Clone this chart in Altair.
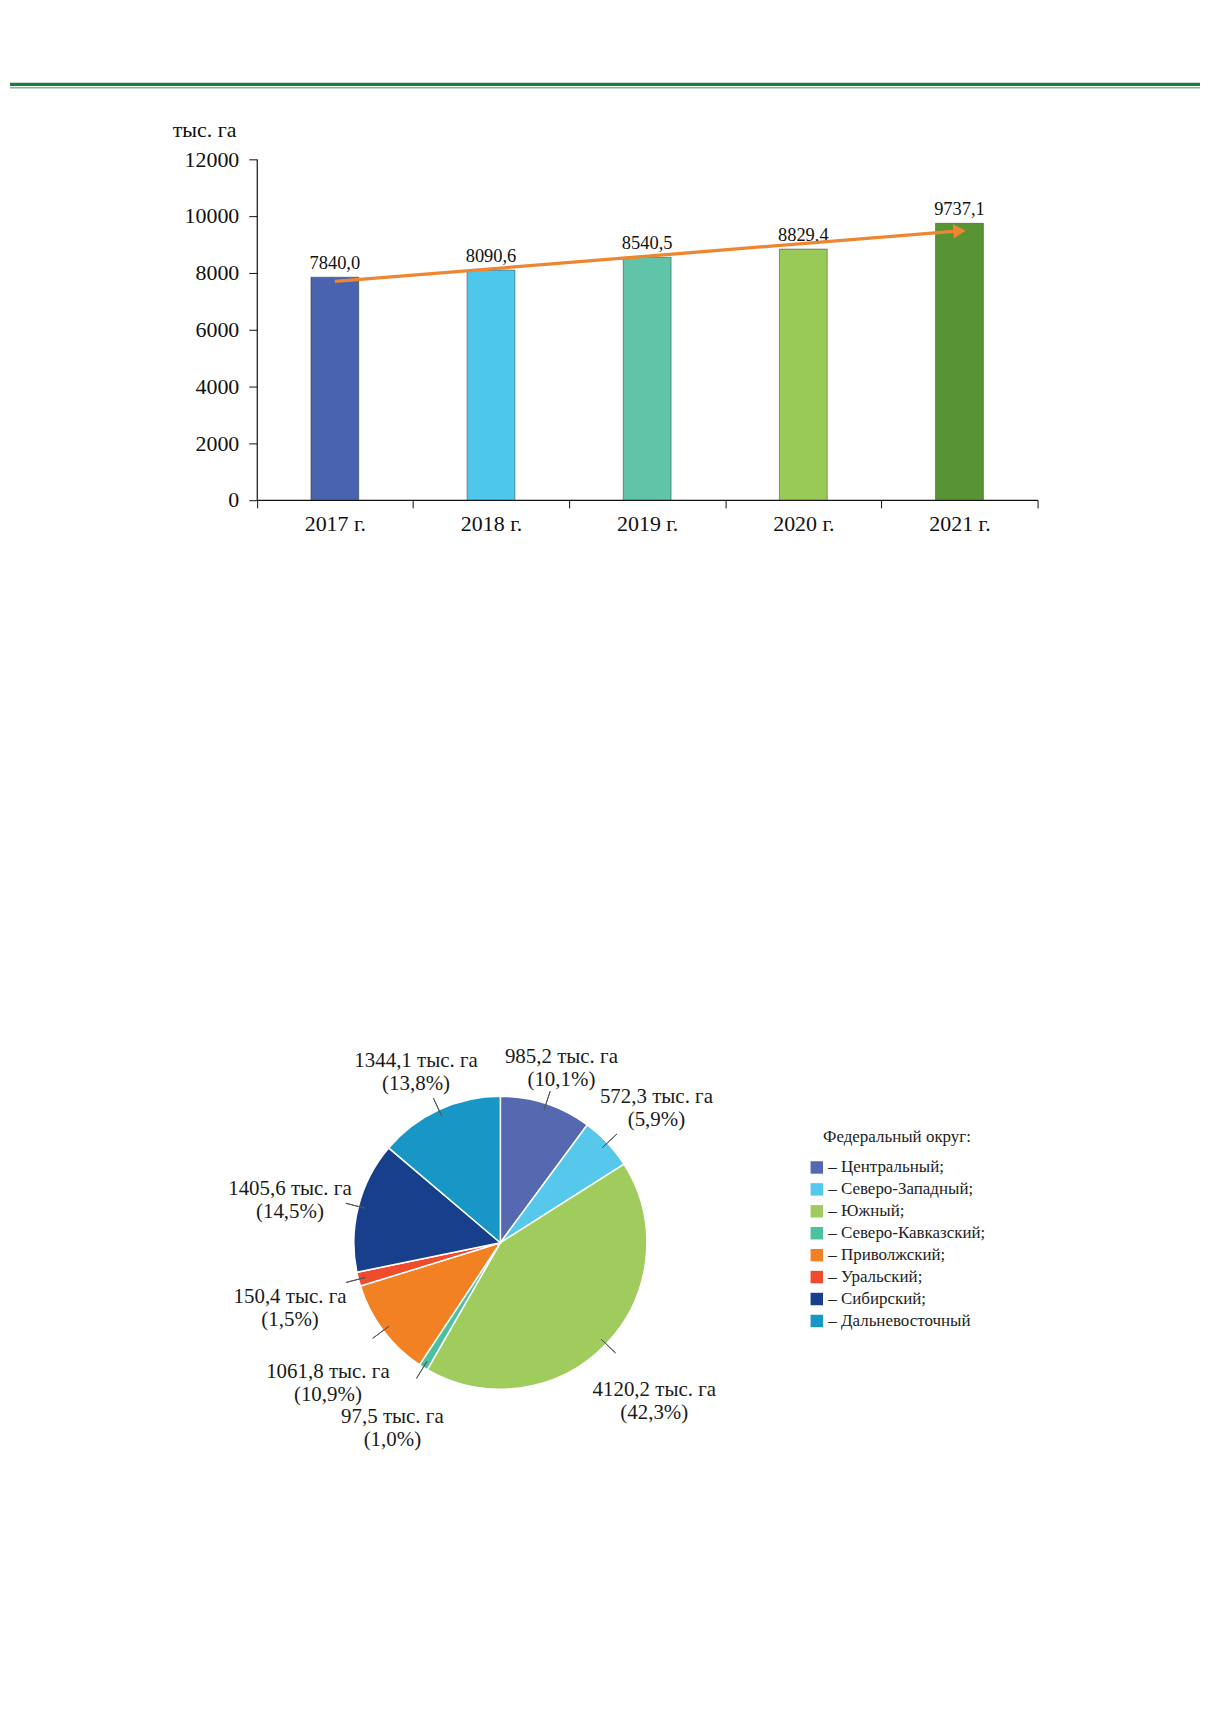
import altair as alt
import pandas as pd
import numpy as np

# ---------------- data ----------------
years = ["2017 г.", "2018 г.", "2019 г.", "2020 г.", "2021 г."]
area = [7840.0, 8090.6, 8540.5, 8829.4, 9737.1]
bar_colors = ["#4A63AE", "#4DC8EC", "#5FC4A8", "#99CA57", "#589434"]
y_ticks = [0, 2000, 4000, 6000, 8000, 10000, 12000]
trend_years = ["2017 г.", "2021 г."]
trend_vals = [7690, 9470]

districts = ["Центральный", "Северо-Западный", "Южный", "Северо-Кавказский",
             "Приволжский", "Уральский", "Сибирский", "Дальневосточный"]
district_area = [985.2, 572.3, 4120.2, 97.5, 1061.8, 150.4, 1405.6, 1344.1]
district_pct = [10.1, 5.9, 42.3, 1.0, 10.9, 1.5, 14.5, 13.8]
district_colors = ["#5568B0", "#55C8EC", "#A0CC5E", "#4CC1A0",
                   "#F28124", "#EE4C2C", "#173F8C", "#1897C6"]


def ru(v):
    return f"{v:.1f}".replace(".", ",")


bar_df = pd.DataFrame({"year": years, "value": area,
                       "label": [ru(v) for v in area]})
trend_df = pd.DataFrame({"year": trend_years, "value": trend_vals})
arrow_df = trend_df.iloc[[-1]]

vals = np.array(district_area)
TOTAL = float(vals.sum())
pie_df = pd.DataFrame({
    "name": districts,
    "value": district_area,
    "idx": list(range(len(districts))),
    "mid": np.cumsum(vals) - vals / 2,
    "label": [f"{ru(v)} тыс. га\n({ru(p)}%)" for v, p in zip(district_area, district_pct)],
})

FONT = "Liberation Serif"
W, H = 1194, 1696
CX, CY = 492, 1236

# ---------------- header lines ----------------
one = pd.DataFrame({"a": [0]})
hdr1 = alt.Chart(one).mark_rule(color="#1C7A3E", strokeWidth=3.3).encode(
    x=alt.value(0), x2=alt.value(W), y=alt.value(73.7))
hdr2 = alt.Chart(one).mark_rule(color="#7DBA8B", strokeWidth=1.7).encode(
    x=alt.value(0), x2=alt.value(W), y=alt.value(77.2))

# ---------------- bar chart ----------------
x_enc = alt.X("year:N", sort=years,
              scale=alt.Scale(domain=years, range=[247.6, 1031],
                              paddingInner=0, paddingOuter=0),
              axis=alt.Axis(title=None, tickBand="extent", tickSize=8,
                            labelPadding=6, labelFontSize=22, labelFont=FONT,
                            labelColor="#111", labelAngle=0,
                            offset=-1205.3, domainColor="#111",
                            domainWidth=1.2, tickColor="#111", grid=False))
y_enc = alt.Y("value:Q",
              scale=alt.Scale(domain=[0, 12000], range=[490.7, 148.7], nice=False),
              axis=alt.Axis(values=y_ticks, format="d", title="тыс. га",
                            titleAngle=0, titleX=-52.8, titleY=119.4,
                            titleAlign="center", titleBaseline="middle",
                            titleFont=FONT, titleFontSize=22,
                            titleFontWeight="normal", titleColor="#111",
                            offset=-247.6, tickSize=8, labelPadding=10,
                            labelFontSize=22, labelFont=FONT, labelColor="#111",
                            domainColor="#111", domainWidth=1.2,
                            tickColor="#111", grid=False))

bars = alt.Chart(bar_df).mark_bar(size=48, stroke="#333333", strokeWidth=0.7,
                                  strokeOpacity=0.7).encode(
    x=x_enc, y=y_enc,
    color=alt.Color("year:N", scale=alt.Scale(domain=years, range=bar_colors),
                    legend=None))
bar_text = alt.Chart(bar_df).mark_text(dy=-8, baseline="alphabetic",
                                       fontSize=18.5, font=FONT,
                                       color="#111").encode(
    x=x_enc, y=y_enc, text="label:N")
trend = alt.Chart(trend_df).mark_line(color="#EE8631", strokeWidth=3.3).encode(
    x=x_enc, y=y_enc)
arrow = alt.Chart(arrow_df).mark_point(shape="triangle-right", size=200,
                                       filled=True, color="#EE8631",
                                       opacity=1, angle=355.4).encode(
    x=x_enc, y=y_enc)

# ---------------- pie chart ----------------
theta_scale = alt.Scale(domain=[0, TOTAL])
pie = alt.Chart(pie_df).mark_arc(radius=147, stroke="white", strokeWidth=1.5).encode(
    theta=alt.Theta("value:Q", stack=True, scale=theta_scale),
    order=alt.Order("idx:Q"),
    color=alt.Color("name:N",
                    scale=alt.Scale(domain=districts, range=district_colors),
                    legend=alt.Legend(
                        title="Федеральный округ:", orient="none",
                        legendX=801, legendY=1122, padding=0,
                        titleFont=FONT, titleFontSize=17,
                        titleFontWeight="normal", titleColor="#222",
                        titlePadding=13, titleAnchor="middle",
                        labelFont=FONT, labelFontSize=17, labelColor="#222",
                        labelLimit=400, labelOffset=3,
                        labelExpr="'– ' + datum.label + (datum.label == 'Дальневосточный' ? '' : ';')",
                        symbolType="square", symbolSize=156,
                        symbolStrokeWidth=0, rowPadding=4)),
    x=alt.value(CX), y=alt.value(CY))

leaders = alt.Chart(pie_df).mark_arc(radius=160, radius2=140, stroke="#555555",
                                     strokeWidth=1, fillOpacity=0).encode(
    theta=alt.Theta("mid:Q", stack=None, scale=theta_scale),
    theta2="mid:Q",
    x=alt.value(CX), y=alt.value(CY))

lr_expr = (f"156 + 58*abs(sin(datum.mid/{TOTAL}*2*PI)) + "
           f"23*abs(cos(datum.mid/{TOTAL}*2*PI))")
pie_labels = alt.Chart(pie_df).transform_calculate(lr=lr_expr).mark_text(
    font=FONT, fontSize=21, lineBreak="\n", lineHeight=23,
    baseline="middle", align="center", color="#1a1a1a").encode(
    theta=alt.Theta("mid:Q", stack=None, scale=theta_scale),
    radius=alt.Radius("lr:Q", scale=None),
    text="label:N",
    x=alt.value(CX), y=alt.value(CY))

chart = alt.layer(
    hdr1, hdr2, bars, bar_text, trend, arrow, pie, leaders, pie_labels
).resolve_scale(color="independent").properties(
    width=W, height=H, padding=0, background="white"
).configure_view(strokeWidth=0)

chart.save("out.html", embed_options={"renderer": "svg", "actions": False})
